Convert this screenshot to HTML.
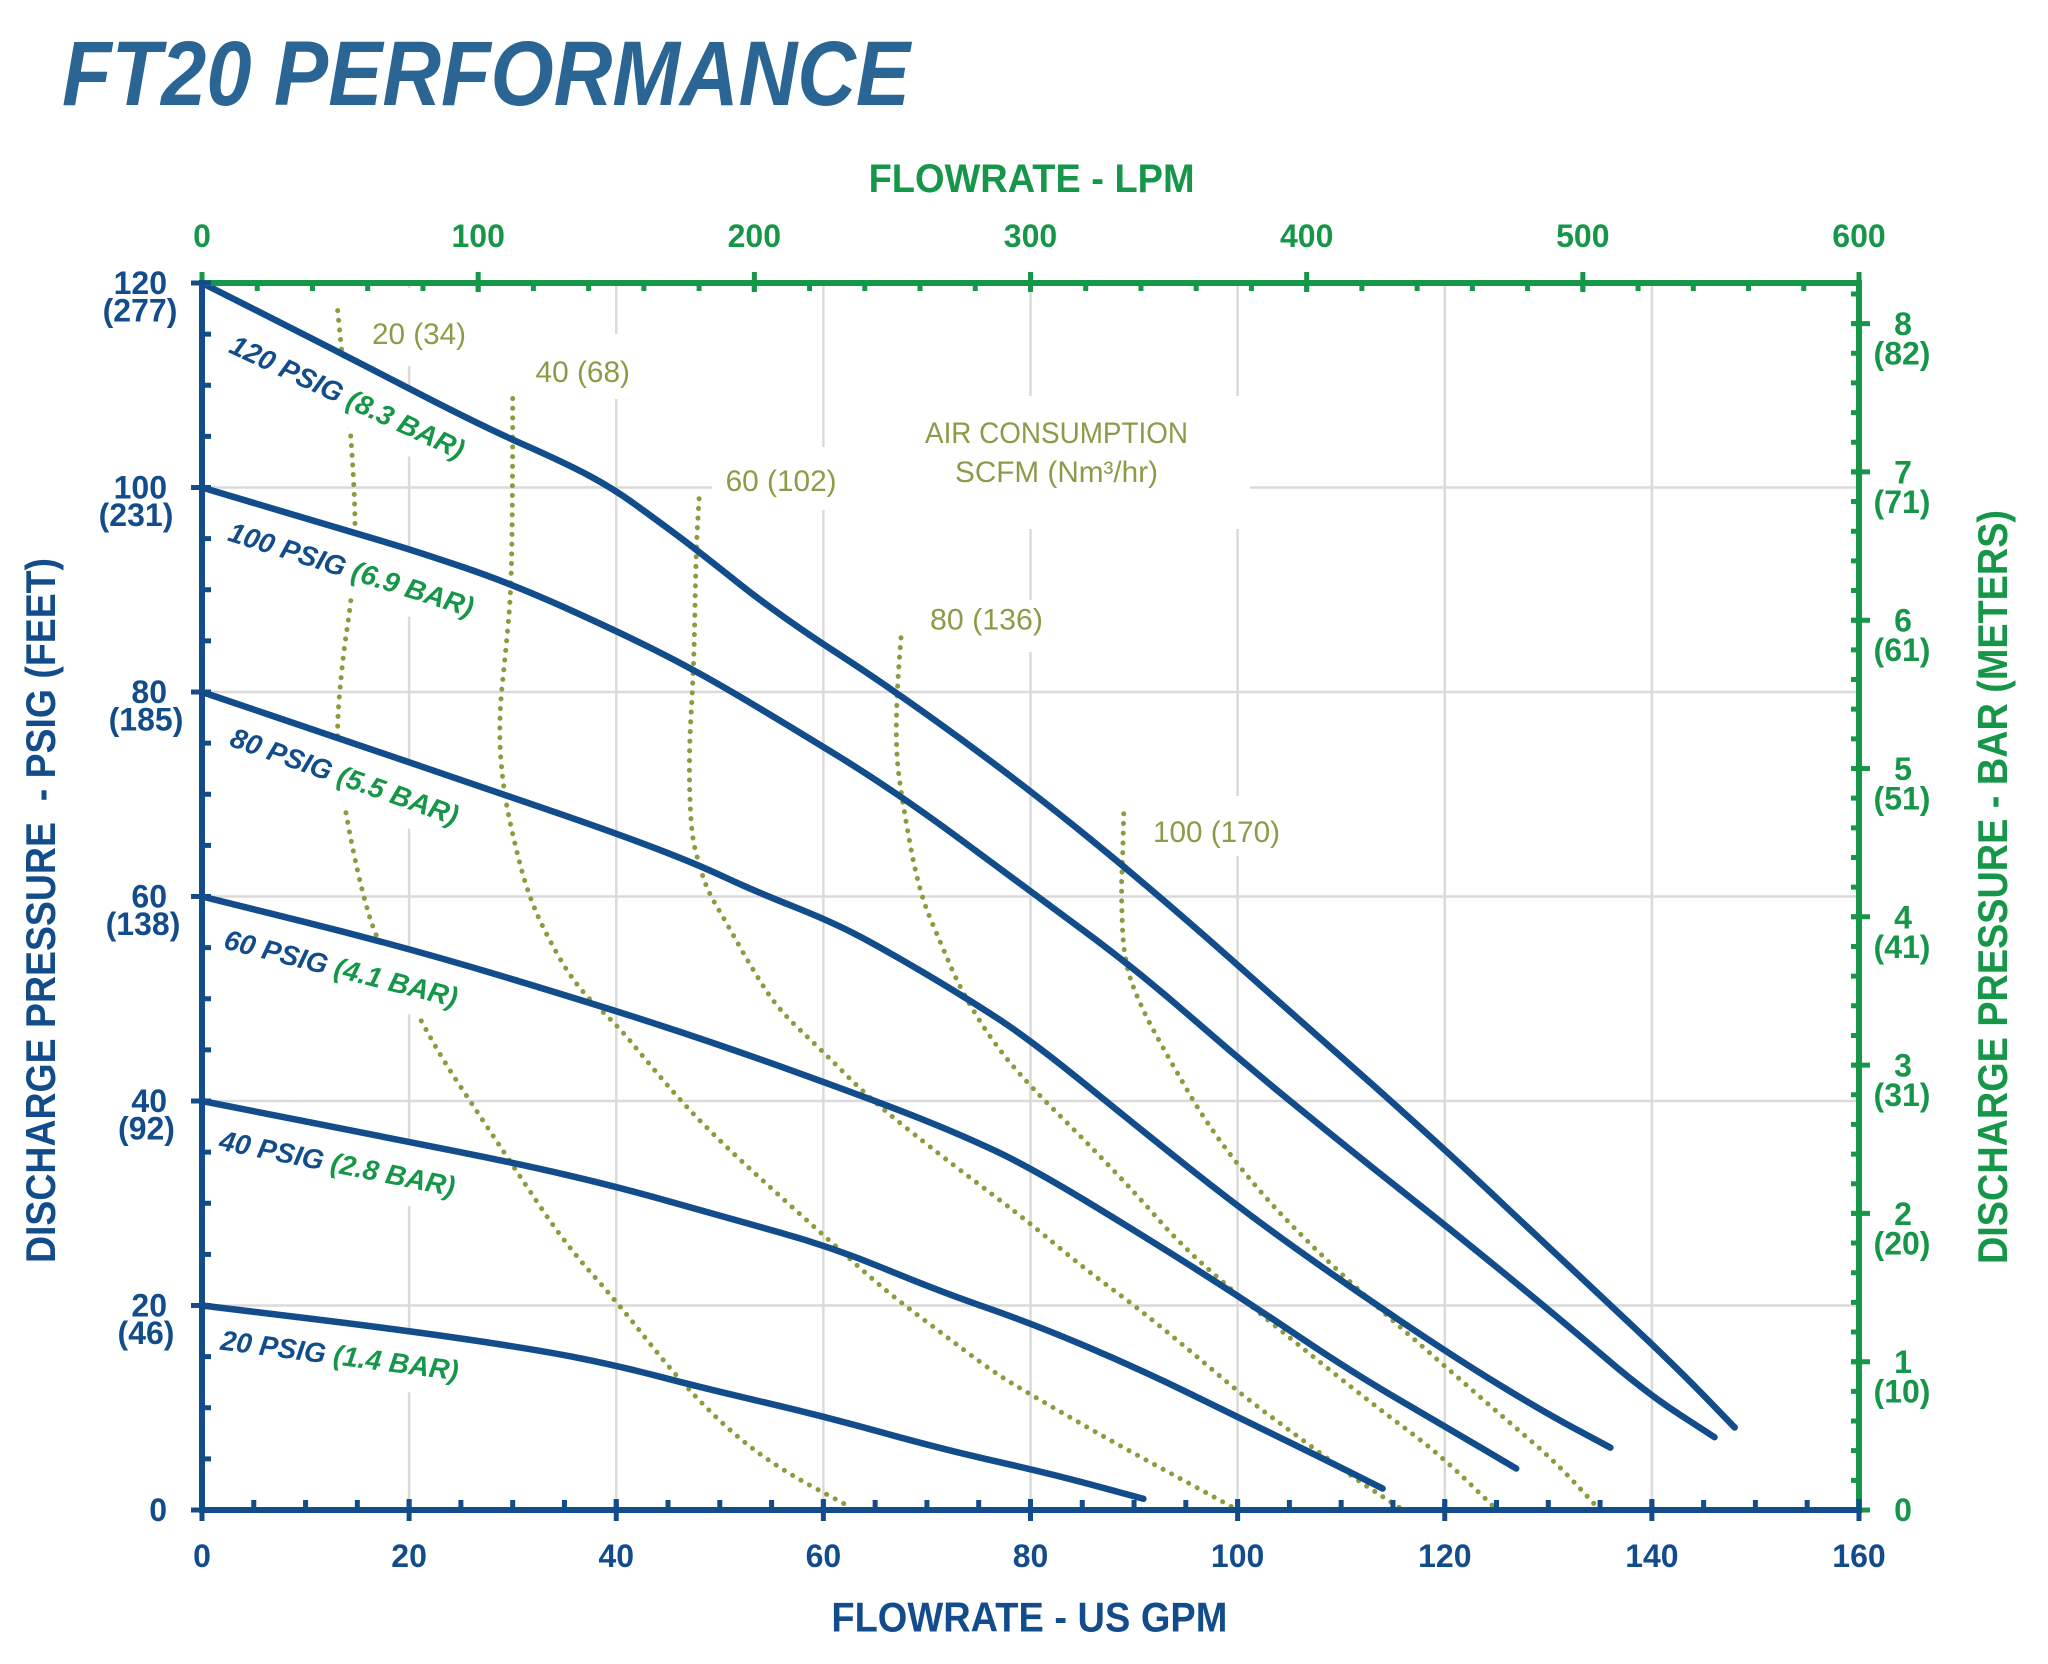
<!DOCTYPE html>
<html><head><meta charset="utf-8"><title>FT20 Performance</title>
<style>html,body{margin:0;padding:0;background:#fff}svg{display:block}</style></head>
<body>
<svg width="2048" height="1664" viewBox="0 0 2048 1664" xmlns="http://www.w3.org/2000/svg" font-family="'Liberation Sans', sans-serif">
<rect width="2048" height="1664" fill="#fff"/>

<!-- Title -->
<text x="62" y="105" font-size="92" font-weight="bold" font-style="italic" fill="#2a6594" textLength="848" lengthAdjust="spacingAndGlyphs">FT20 PERFORMANCE</text>

<!-- Gridlines -->
<g stroke="#dadada" stroke-width="2.5">
<line x1="409.1" y1="283" x2="409.1" y2="1510"/>
<line x1="616.3" y1="283" x2="616.3" y2="1510"/>
<line x1="823.4" y1="283" x2="823.4" y2="1510"/>
<line x1="1030.5" y1="283" x2="1030.5" y2="1510"/>
<line x1="1237.6" y1="283" x2="1237.6" y2="1510"/>
<line x1="1444.8" y1="283" x2="1444.8" y2="1510"/>
<line x1="1651.9" y1="283" x2="1651.9" y2="1510"/>
<line x1="202" y1="487.5" x2="1859" y2="487.5"/>
<line x1="202" y1="692" x2="1859" y2="692"/>
<line x1="202" y1="896.5" x2="1859" y2="896.5"/>
<line x1="202" y1="1101" x2="1859" y2="1101"/>
<line x1="202" y1="1305.5" x2="1859" y2="1305.5"/>
</g>

<!-- Air consumption dotted lines -->
<g fill="none" stroke="#8b9c3e" stroke-width="5" stroke-linecap="round" stroke-dasharray="0.1 9.6">
<path d="M337.7,310.6 L340.25,336.7 Q342.8,362.8 346.95,397.55 Q351.1,432.3 353.7,482.9 Q356.3,533.5 353.7,568.25 Q351.1,603 346.95,629.6 Q342.8,656.2 339.2,698.15 Q335.6,740.1 340.25,775.35 Q344.9,810.6 353.2,850.5 Q361.5,890.4 369.5,916.45 Q377.5,942.5 396.4,976.25 Q415.3,1010 428.8,1034.55 Q442.3,1059.1 460.9,1087.2 Q479.5,1115.3 498.15,1143.45 Q516.8,1171.6 540.9,1207.55 Q565,1243.5 591.65,1273.5 Q618.3,1303.5 645.25,1337.75 Q672.2,1372 699.1,1400.1 Q726,1428.2 752.4,1448.35 Q778.8,1468.5 815.4,1488.25 L852,1508"/>
<path d="M512.7,398.5 L512.7,426.65 Q512.7,454.8 512.15,519.2 Q511.6,583.6 509.05,613.75 Q506.5,643.9 502.35,683.8 Q498.2,723.7 500.8,757.95 Q503.4,792.2 510.1,822.35 Q516.8,852.5 522,871.45 Q527.2,890.4 535.45,910.3 Q543.7,930.2 559.8,958.35 Q575.9,986.5 597.1,1006.45 Q618.3,1026.4 631.75,1042.75 Q645.2,1059.1 663.85,1081.05 Q682.5,1103 704.25,1125 Q726,1147 752.4,1171.05 Q778.8,1195.1 805.75,1219.3 Q832.7,1243.5 859.6,1267.6 Q886.5,1291.7 913.45,1311.9 Q940.4,1332.1 966.8,1352.05 Q993.2,1372 1011.85,1383.25 Q1030.5,1394.5 1070.35,1417.5 Q1110.2,1440.5 1150.6,1462.45 Q1191,1484.4 1212.5,1496.2 L1234,1508"/>
<path d="M699.1,498.7 L697.55,524.8 Q696,550.9 694.95,609.2 Q693.9,667.5 691.3,709.9 Q688.7,752.3 689.75,792.2 Q690.8,832.1 694.95,848.45 Q699.1,864.8 703.25,877.6 Q707.4,890.4 716.7,906.25 Q726,922.1 739.45,946.1 Q752.9,970.1 765.85,990.05 Q778.8,1010 800.55,1030.45 Q822.3,1050.9 846.15,1074.95 Q870,1099 905.2,1127.1 Q940.4,1155.2 966.8,1175.15 Q993.2,1195.1 1011.85,1209.4 Q1030.5,1223.7 1056.9,1245.7 Q1083.3,1267.7 1110.2,1287.6 Q1137.1,1307.5 1164.05,1329.5 Q1191,1351.5 1217.4,1374 Q1243.8,1396.5 1270.75,1416.45 Q1297.7,1436.4 1324.6,1456.35 Q1351.5,1476.3 1375.75,1492.15 L1400,1508"/>
<path d="M901,637.8 L898.95,664.9 Q896.9,692 896.4,722.15 Q895.9,752.3 899,776.35 Q902.1,800.4 910.35,845.4 Q918.6,890.4 929.5,916.45 Q940.4,942.5 950.75,966.55 Q961.1,990.6 977.15,1016.65 Q993.2,1042.7 1011.85,1064.7 Q1030.5,1086.7 1056.9,1112.75 Q1083.3,1138.8 1110.2,1166.95 Q1137.1,1195.1 1158.35,1219.3 Q1179.6,1243.5 1206.55,1267.6 Q1233.5,1291.7 1265.6,1318.05 Q1297.7,1344.4 1335.5,1374.55 Q1373.3,1404.7 1405.4,1428.55 Q1437.5,1452.4 1466.25,1480.2 L1495,1508"/>
<path d="M1123.7,813.7 L1123.15,837.2 Q1122.6,860.7 1121.85,875.55 Q1121.1,890.4 1122.4,926.2 Q1123.7,962 1133,986 Q1142.3,1010 1155.8,1034.55 Q1169.3,1059.1 1187.9,1091.3 Q1206.5,1123.5 1230.85,1155.2 Q1255.2,1186.9 1282.1,1215.2 Q1309,1243.5 1341.15,1273.5 Q1373.3,1303.5 1405.4,1331.6 Q1437.5,1359.7 1469.6,1387.8 Q1501.7,1415.9 1528.1,1438.4 Q1554.5,1460.9 1576.25,1484.45 L1598,1508"/>
</g>

<!-- White label boxes -->
<g fill="#fff">
<rect x="366" y="288" width="109" height="78"/>
<rect x="528" y="334" width="112" height="65"/>
<rect x="712" y="447" width="150" height="63"/>
<rect x="862" y="396" width="388" height="133"/>
<rect x="922" y="600" width="130" height="52"/>
<rect x="1146" y="796" width="142" height="60"/>
<g transform="translate(346.6,398.6) rotate(25)"><rect x="-136" y="-35" width="272" height="61"/></g>
<g transform="translate(350.7,571) rotate(17.5)"><rect x="-136" y="-35" width="272" height="61"/></g>
<g transform="translate(344,778) rotate(19.5)"><rect x="-128" y="-35" width="256" height="61"/></g>
<g transform="translate(340.6,970) rotate(14.3)"><rect x="-128" y="-35" width="256" height="61"/></g>
<g transform="translate(337,1165) rotate(11.3)"><rect x="-128" y="-35" width="256" height="61"/></g>
<g transform="translate(339.5,1357) rotate(7.4)"><rect x="-128" y="-35" width="256" height="61"/></g>
</g>

<!-- Air labels -->
<g font-size="30" fill="#8d9b48">
<text x="372" y="344" textLength="94" lengthAdjust="spacingAndGlyphs">20 (34)</text>
<text x="535.5" y="382" textLength="94.5" lengthAdjust="spacingAndGlyphs">40 (68)</text>
<text x="725.6" y="491" textLength="111" lengthAdjust="spacingAndGlyphs">60 (102)</text>
<text x="930" y="629.5" textLength="113" lengthAdjust="spacingAndGlyphs">80 (136)</text>
<text x="1153" y="842" textLength="127" lengthAdjust="spacingAndGlyphs">100 (170)</text>
<text x="1056.5" y="443" text-anchor="middle" textLength="263" lengthAdjust="spacingAndGlyphs">AIR CONSUMPTION</text>
<text x="1056.5" y="482" text-anchor="middle" textLength="203" lengthAdjust="spacingAndGlyphs">SCFM (Nm³/hr)</text>
</g>

<!-- PSIG labels -->
<g font-size="28" font-weight="bold" font-style="italic" text-anchor="middle" fill="#134c8b">
<g transform="translate(346.6,398.6) rotate(25)"><text x="0" y="8">120 PSIG <tspan fill="#169648">(8.3 BAR)</tspan></text></g>
<g transform="translate(350.7,571) rotate(17.5)"><text x="0" y="8">100 PSIG <tspan fill="#169648">(6.9 BAR)</tspan></text></g>
<g transform="translate(344,778) rotate(19.5)"><text x="0" y="8">80 PSIG <tspan fill="#169648">(5.5 BAR)</tspan></text></g>
<g transform="translate(340.6,970) rotate(14.3)"><text x="0" y="8">60 PSIG <tspan fill="#169648">(4.1 BAR)</tspan></text></g>
<g transform="translate(337,1165) rotate(11.3)"><text x="0" y="8">40 PSIG <tspan fill="#169648">(2.8 BAR)</tspan></text></g>
<g transform="translate(339.5,1357) rotate(7.4)"><text x="0" y="8">20 PSIG <tspan fill="#169648">(1.4 BAR)</tspan></text></g>
</g>

<!-- Pump curves -->
<g fill="none" stroke="#134c8b" stroke-width="6.5" stroke-linecap="round" stroke-linejoin="round">
<path d="M202,283 L270.85,317.75 Q339.7,352.5 409.6,388.8 Q479.5,425.1 522.5,444.05 Q565.5,463 589.3,475.75 Q613.1,488.5 634.35,503.85 Q655.6,519.2 675.8,534.25 Q696,549.3 737.4,582.3 Q778.8,615.3 837.85,653.65 Q896.9,692 963.7,741.1 Q1030.5,790.2 1091.85,840.3 Q1153.2,890.4 1225.45,954.3 Q1297.7,1018.2 1370.15,1082.6 Q1442.6,1147 1504.25,1205.3 Q1565.9,1263.6 1619.5,1313.7 Q1673.1,1363.8 1703.9,1395.65 L1734.7,1427.5"/>
<path d="M202,487.5 L279.15,510.5 Q356.3,533.5 385.8,542.2 Q415.3,550.9 463.45,567.25 Q511.6,583.6 564.95,607.65 Q618.3,631.7 656.1,650.6 Q693.9,669.5 736.35,694.55 Q778.8,719.6 837.85,755.9 Q896.9,792.2 963.7,841.8 Q1030.5,891.4 1083.8,930.75 Q1137.1,970.1 1190.45,1016.65 Q1243.8,1063.2 1297.65,1107.15 Q1351.5,1151.1 1404.85,1193.3 Q1458.2,1235.5 1512.05,1279.7 Q1565.9,1323.9 1605.75,1358.15 Q1645.6,1392.4 1680.05,1414.8 L1714.5,1437.2"/>
<path d="M202,692 L269.85,715 Q337.7,738 420.55,766.15 Q503.4,794.3 560.85,814.2 Q618.3,834.1 657.15,848.95 Q696,863.8 724.45,877.1 Q752.9,890.4 792.8,906.25 Q832.7,922.1 859.6,936.4 Q886.5,950.7 923.8,972.7 Q961.1,994.7 995.8,1017.2 Q1030.5,1039.7 1083.8,1083.15 Q1137.1,1126.6 1190.45,1169 Q1243.8,1211.4 1297.65,1249.75 Q1351.5,1288.1 1404.85,1323.9 Q1458.2,1359.7 1501.15,1385.95 Q1544.1,1412.2 1577.25,1429.9 L1610.4,1447.6"/>
<path d="M202,896.5 L302.95,921.55 Q403.9,946.6 500.75,975.75 Q597.6,1004.9 661.8,1025.85 Q726,1046.8 801.1,1073.9 Q876.2,1101 918.65,1117.85 Q961.1,1134.7 995.8,1151.1 Q1030.5,1167.5 1083.8,1199.7 Q1137.1,1231.9 1190.45,1265.65 Q1243.8,1299.4 1297.65,1335.7 Q1351.5,1372 1399.65,1400.1 Q1447.8,1428.2 1482,1448.35 L1516.2,1468.5"/>
<path d="M202,1101 L302.95,1120.95 Q403.9,1140.9 460.35,1152.15 Q516.8,1163.4 567.55,1175.15 Q618.3,1186.9 672.15,1202.25 Q726,1217.6 779.35,1232.4 Q832.7,1247.2 886.55,1269.45 Q940.4,1291.7 985.45,1307.3 Q1030.5,1322.9 1083.8,1345.4 Q1137.1,1367.9 1190.45,1393.95 Q1243.8,1420 1281.6,1438.4 Q1319.4,1456.8 1351,1472.65 L1382.6,1488.5"/>
<path d="M202,1305.5 L302.95,1317.75 Q403.9,1330 471.25,1340 Q538.6,1350 578.45,1357.9 Q618.3,1365.8 661.3,1377.05 Q704.3,1388.3 763.3,1402.1 Q822.3,1415.9 881.35,1432.3 Q940.4,1448.7 985.45,1458.9 Q1030.5,1469.1 1056.9,1475.75 Q1083.3,1482.4 1113.35,1490.6 L1143.4,1498.8"/>
</g>

<!-- Green axes (top & right) -->
<g stroke="#169648" fill="none">
<line x1="202" y1="283" x2="1862" y2="283" stroke-width="6"/>
<line x1="1859" y1="280" x2="1859" y2="1510" stroke-width="6"/>
<path d="M199.5,287 H1862" stroke-width="8" stroke-dasharray="5 50.233"/>
<path d="M199.5,282 H1862" stroke-width="20" stroke-dasharray="5 271.17"/>
<path d="M1855,1512.5 V280" stroke-width="8" stroke-dasharray="5 24.66"/>
<path d="M1860.5,1512.5 V280" stroke-width="19" stroke-dasharray="5 143.3"/>
</g>

<!-- Blue axes (left & bottom) -->
<g stroke="#134c8b" fill="none">
<line x1="202" y1="280" x2="202" y2="1513" stroke-width="6"/>
<line x1="199" y1="1510" x2="1862" y2="1510" stroke-width="6"/>
<path d="M199.5,1505 H1862" stroke-width="10" stroke-dasharray="5 46.78"/>
<path d="M199.5,1510 H1862" stroke-width="22" stroke-dasharray="5 202.125"/>
<path d="M206.5,1512.5 V280" stroke-width="9" stroke-dasharray="5 46.125"/>
<path d="M200,1512.5 V280" stroke-width="18" stroke-dasharray="5 199.5"/>
</g>

<!-- Top tick labels (LPM) -->
<g font-size="32" font-weight="bold" fill="#169648" text-anchor="middle">
<text x="202" y="247">0</text>
<text x="478.2" y="247">100</text>
<text x="754.3" y="247">200</text>
<text x="1030.5" y="247">300</text>
<text x="1306.7" y="247">400</text>
<text x="1582.8" y="247">500</text>
<text x="1859" y="247">600</text>
</g>
<text x="868.6" y="192" font-size="40" font-weight="bold" fill="#169648" textLength="326" lengthAdjust="spacingAndGlyphs">FLOWRATE - LPM</text>

<!-- Bottom tick labels (GPM) -->
<g font-size="32" font-weight="bold" fill="#134c8b" text-anchor="middle">
<text x="202" y="1567">0</text>
<text x="409.1" y="1567">20</text>
<text x="616.3" y="1567">40</text>
<text x="823.4" y="1567">60</text>
<text x="1030.5" y="1567">80</text>
<text x="1237.6" y="1567">100</text>
<text x="1444.8" y="1567">120</text>
<text x="1651.9" y="1567">140</text>
<text x="1859" y="1567">160</text>
</g>
<text x="831.4" y="1631.7" font-size="42" font-weight="bold" fill="#134c8b" textLength="396" lengthAdjust="spacingAndGlyphs">FLOWRATE - US GPM</text>

<!-- Left tick labels -->
<g font-size="32" font-weight="bold" fill="#134c8b">
<g text-anchor="end">
<text x="167" y="1521">0</text>
<text x="167" y="1316.5">20</text>
<text x="167" y="1112">40</text>
<text x="167" y="907.5">60</text>
<text x="167" y="703">80</text>
<text x="167" y="498.5">100</text>
<text x="167" y="294">120</text>
</g>
<g text-anchor="middle">
<text x="146" y="1344">(46)</text>
<text x="146.5" y="1139.5">(92)</text>
<text x="143" y="935">(138)</text>
<text x="146" y="730.5">(185)</text>
<text x="136" y="526">(231)</text>
<text x="140" y="321.5">(277)</text>
</g>
</g>
<text transform="translate(55,1263) rotate(-90)" font-size="42" font-weight="bold" fill="#134c8b" textLength="705" lengthAdjust="spacingAndGlyphs" style="white-space:pre">DISCHARGE PRESSURE  - PSIG (FEET)</text>

<!-- Right tick labels -->
<g font-size="32" font-weight="bold" fill="#169648" text-anchor="middle">
<text x="1903" y="1521">0</text>
<text x="1903" y="1373.2">1</text><text x="1902" y="1402.7">(10)</text>
<text x="1903" y="1224.9">2</text><text x="1902" y="1254.4">(20)</text>
<text x="1903" y="1076.6">3</text><text x="1902" y="1106.1">(31)</text>
<text x="1903" y="928.3">4</text><text x="1902" y="957.8">(41)</text>
<text x="1903" y="780">5</text><text x="1902" y="809.5">(51)</text>
<text x="1903" y="631.7">6</text><text x="1902" y="661.2">(61)</text>
<text x="1903" y="483.4">7</text><text x="1902" y="512.9">(71)</text>
<text x="1903" y="335.1">8</text><text x="1902" y="364.6">(82)</text>
</g>
<text transform="translate(2007,1264) rotate(-90)" font-size="42" font-weight="bold" fill="#169648" textLength="754" lengthAdjust="spacingAndGlyphs">DISCHARGE PRESSURE - BAR (METERS)</text>
</svg>
</body></html>
